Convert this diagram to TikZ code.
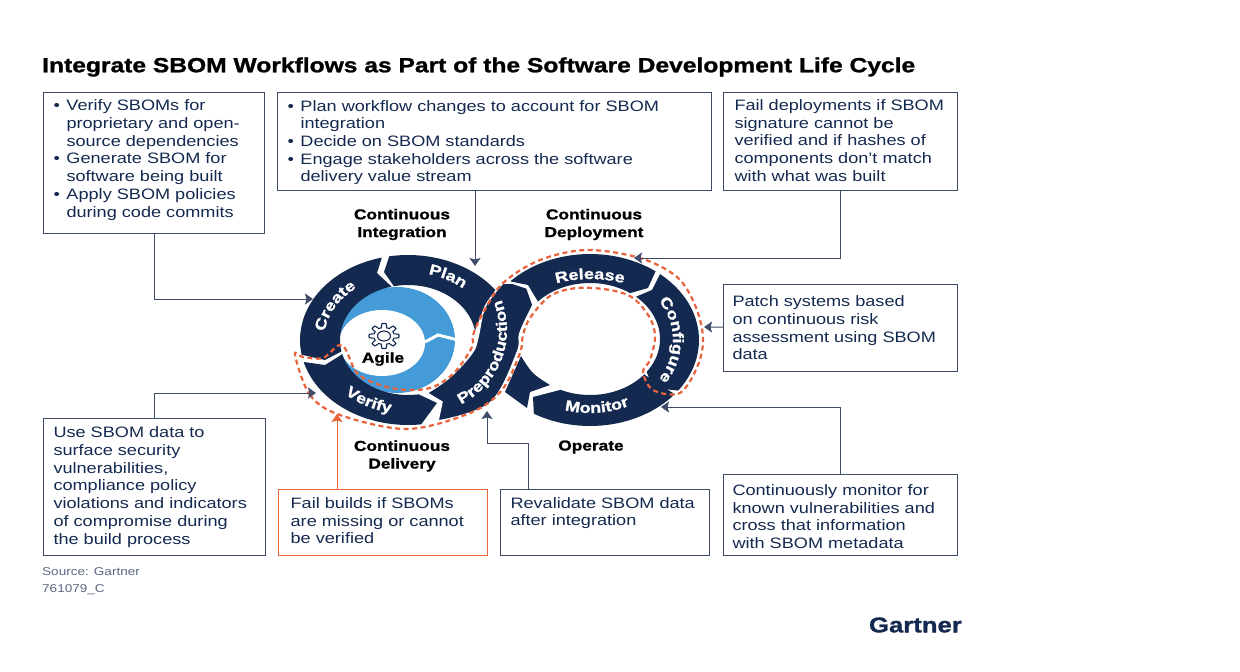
\documentclass[tikz,border=0pt]{standalone}
\usepackage{fontspec}
\setmainfont{Liberation Sans}[FakeStretch=1.2,BoldFeatures={FakeBold=1.2}]
\usetikzlibrary{arrows.meta,decorations.text}
\definecolor{navy}{HTML}{14294F}
\definecolor{slate}{HTML}{3E4C69}
\definecolor{skyblue}{HTML}{449BD8}
\definecolor{flame}{HTML}{E8633A}
\tikzset{
  box/.style={draw=slate, line width=1pt, anchor=north west, text=navy, align=left, font=\fontsize{15.1}{17.7}\selectfont, inner sep=0pt},
  conn/.style={slate, line width=1pt, -{Stealth[length=8pt,width=11pt,inset=1.5pt]}},
  phase/.style={text=black, font=\fontsize{14.4}{17.7}\selectfont\bfseries, align=center},
  seg/.style={fill=navy, draw=none},
  note/.style={anchor=west, text=slate!85, inner sep=0pt, font=\fontsize{11.3}{12}\selectfont},
  lettering/.style={postaction={decorate,decoration={text along path,text align=center,text={|\fontsize{15}{15}\selectfont\bfseries\color{white}|#1}}}},
}
\newcommand{\bul}{\makebox[13pt][l]{•}}
% outer arc a to b, corner, inner arc c to d, corner; ring set by the two macros below
\newcommand{\ringseg}[6]{\fill[seg] plot[domain=#1:#2,samples=30] ({\outerx+\outerrx*cos(\x)},{340+\outerry*sin(\x)}) -- #3 -- plot[domain=#4:#5,samples=30] ({\innerx+\innerrx*cos(\x)},{\innery+\innerry*sin(\x)}) -- #6 -- cycle;}
\newcommand{\leftring}{\def\outerx{408}\def\outerrx{108}\def\outerry{85}\def\innerx{408}\def\innery{340}\def\innerrx{68}\def\innerry{55}}
\newcommand{\rightring}{\def\outerx{590}\def\outerrx{109}\def\outerry{86}\def\innerx{590}\def\innery{339}\def\innerrx{70}\def\innerry{56}}
\newcommand{\arclabel}[7]{\path[lettering={#1}] plot[domain=#6:#7,samples=40] ({#2+#4*cos(\x)},{#3+#5*sin(\x)});}
\begin{document}
\begin{tikzpicture}[x=1pt,y=-1pt]
\useasboundingbox (0,0) rectangle (1240,672);
\node[anchor=west, inner sep=0pt, text=black, font=\fontsize{20.5}{24}\selectfont\bfseries] (title) at (42,67) {Integrate SBOM Workflows as Part of the Software Development Life Cycle};

% boxes
\node[box, text width=201pt, minimum height=141pt, inner xsep=10pt] (boxa) at (43,92) {\bul Verify SBOMs for\\\hspace*{13pt}proprietary and open-\\\hspace*{13pt}source dependencies\\\bul Generate SBOM for\\\hspace*{13pt}software being built\\\bul Apply SBOM policies\\\hspace*{13pt}during code commits\\[-8.7pt]\mbox{}};
\node[box, text width=414pt, minimum height=98pt, inner xsep=10pt] (boxb) at (277,92) {\rule{0pt}{13pt}\bul Plan workflow changes to account for SBOM\\\hspace*{13pt}integration\\\bul Decide on SBOM standards\\\bul Engage stakeholders across the software\\\hspace*{13pt}delivery value stream};
\node[box, text width=212pt, minimum height=98pt, inner xsep=11pt] (boxc) at (723,92) {Fail deployments if SBOM\\signature cannot be\\verified and if hashes of\\components don’t match\\with what was built\\[-15.7pt]\mbox{}};
\node[box, text width=216pt, minimum height=87pt, inner xsep=9pt] (boxd) at (723,284) {Patch systems based\\on continuous risk\\assessment using SBOM\\data};
\node[box, text width=202pt, minimum height=137pt, inner xsep=10pt] (boxe) at (43,418) {Use SBOM data to\\surface security\\vulnerabilities,\\compliance policy\\violations and indicators\\of compromise during\\the build process};
\node[box, draw=flame, line width=1.3pt, text width=185pt, minimum height=66pt, inner xsep=12pt] (boxf) at (278,489) {Fail builds if SBOMs\\are missing or cannot\\be verified\\[-13.7pt]\mbox{}};
\node[box, text width=189pt, minimum height=66pt, inner xsep=10pt] (boxg) at (500,489) {Revalidate SBOM data\\after integration\\\mbox{}\\[-13.7pt]\mbox{}};
\node[box, text width=216pt, minimum height=81pt, inner xsep=9pt] (boxh) at (723,474) {\rule{0pt}{14pt}Continuously monitor for\\known vulnerabilities and\\cross that information\\with SBOM metadata};

% blue centre
\fill[skyblue] (397,340) ellipse (58 and 53);
\fill[white] (382,343) ellipse (43 and 33);
\draw[white, line width=3pt] (425,342) -- (438,335) -- (458,340);

% left ring
\leftring
\ringseg{170}{256}{(377,273)}{256}{168}{(325,360)}
\ringseg{260}{324}{(482,313)}{350}{258}{(384,272)}
\ringseg{165}{83}{(437,403)}{81}{165}{(325,365)}

% right ring
\rightring
\ringseg{223}{307}{(648,288)}{305}{222}{(528,285)}
\ringseg{-50}{36}{(653,388)}{36}{-49}{(652,290)}
\ringseg{39}{121}{(533,397) -- (560,390)}{115}{39}{(645,375)}
\fill[seg] plot[smooth,tension=.6] coordinates {(521,356) (533,373) (550,385)} -- (530,392) -- (527,408) -- (505,392) -- cycle;

% preproduction sits over both rings
\draw[seg, draw=white, line width=1.5pt] plot[smooth,tension=.6] coordinates {(438,421) (490,403) (517,353) (520,333) (533,305)} -- (527,288) -- (512,283) -- (503,283) -- plot[smooth,tension=.6] coordinates {(503,283) (485,307) (478,337) (472,353) (450,377) (427,393)} -- (442,402) -- cycle;

% ring labels
\arclabel{Create}{408}{340}{84}{66}{168}{248}
\arclabel{Plan}{408}{340}{84}{68}{-98}{-24}
\arclabel{Verify}{408}{340}{92}{74}{150}{86}
\arclabel{Preproduction}{424}{330}{83}{83}{60}{-18}
\arclabel{Release}{590}{340}{90}{61}{-125}{-55}
\arclabel{Configure}{590}{340}{83}{70}{-32}{32}
\arclabel{Monitor}{590}{340}{90}{73}{120}{50}

% gear and centre label
\draw[navy, line width=1.1pt] plot[domain=0:360,samples=241] ({384+1.2*(10.5+2*max(-1,min(1,2*cos(8*\x))))*cos(\x)},{336+(10.5+2*max(-1,min(1,2*cos(8*\x))))*sin(\x)}) -- cycle;
\draw[navy, line width=1.1pt] (384,336) ellipse (6.5 and 5);
\node[phase] (agile) at (383,359) {Agile};

% dashed outline
\draw[flame, line width=2.2pt, dash pattern=on 5pt off 3.5pt] plot[smooth cycle,tension=.55] coordinates {(295,355) (310,395) (340,415) (407,429) (470,413) (502,390) (520,353) (523,335) (530,318) (550,296) (577,288) (610,290) (633,298) (650,318) (655,337) (650,360) (643,372) (653,390) (680,393) (698,365) (703,337) (695,305) (677,277) (640,258) (587,250) (540,260) (503,283) (483,313) (473,335) (472,347) (455,372) (433,387) (407,390) (380,385) (357,373) (342,345) (323,358) (303,357)};

% phase labels
\node[phase] (integration) at (402,224.5) {Continuous\\Integration};
\node[phase] (deployment) at (594,224.5) {Continuous\\Deployment};
\node[phase] (delivery) at (402,456) {Continuous\\Delivery};
\node[phase] (operate) at (591,447) {Operate};

% connectors
\coordinate (tipcreate) at (313,299);
\coordinate (tipplan) at (475,266);
\coordinate (tiprelease) at (634,258);
\coordinate (tipconfigure) at (704,327);
\coordinate (tipverify) at (316,393);
\coordinate (tipfail) at (337,414);
\coordinate (tipreval) at (487,411);
\coordinate (bendreval) at (528,443);
\coordinate (tipmonitor) at (661,407);
\draw[conn] (boxa) |- (tipcreate);
\draw[conn] (boxb.south -| tipplan) -- (tipplan);
\draw[conn] (boxc) |- (tiprelease);
\draw[conn] (boxd) -- (tipconfigure);
\draw[conn] (boxe) |- (tipverify);
\draw[conn, flame] (boxf.north -| tipfail) -- (tipfail);
\draw[conn] (boxg.north -| bendreval) -- (bendreval) -| (tipreval);
\draw[conn] (boxh) |- (tipmonitor);

% footer
\node[note] (source) at (42,572) {Source: Gartner};
\node[note] (figid) at (42,590) {761079\_C};
\node[anchor=east, inner sep=0pt, text=navy, font=\fontsize{21.4}{24}\selectfont\bfseries] (logo) at (962,625) {Gartner};
\end{tikzpicture}
\end{document}
